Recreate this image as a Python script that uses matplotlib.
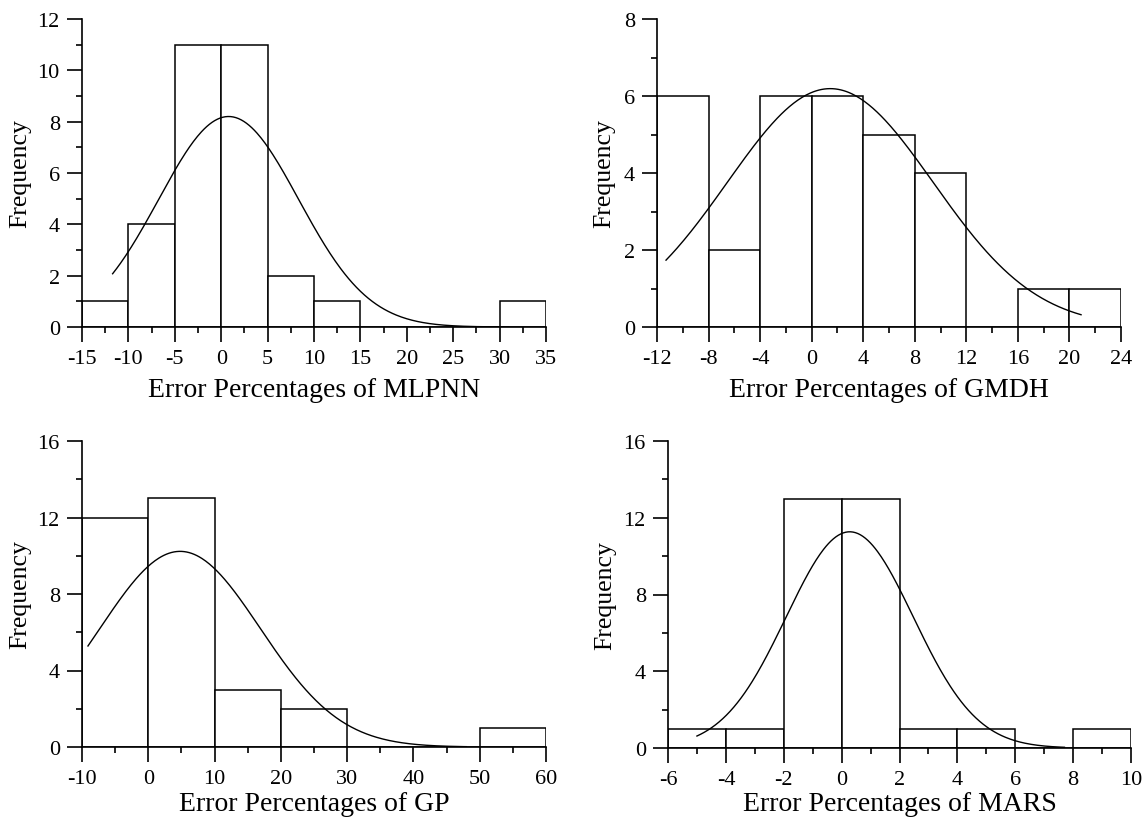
import numpy as np
import matplotlib
matplotlib.use("Agg")
import matplotlib.pyplot as plt
from matplotlib.ticker import MultipleLocator

plt.rcParams['font.family'] = ['Liberation Serif', 'DejaVu Serif']
plt.rcParams['axes.unicode_minus'] = False

# ---- data ----
models = ["MLPNN", "GMDH", "GP", "MARS"]

mlpnn_edges = [-15, -10, -5, 0, 5, 10, 15, 20, 25, 30, 35]
mlpnn_counts = [1, 4, 11, 11, 2, 1, 0, 0, 0, 1]

gmdh_edges = [-12, -8, -4, 0, 4, 8, 12, 16, 20, 24]
gmdh_counts = [6, 2, 6, 6, 5, 4, 0, 1, 1]

gp_edges = [-10, 0, 10, 20, 30, 40, 50, 60]
gp_counts = [12, 13, 3, 2, 0, 0, 1]

mars_edges = [-6, -4, -2, 0, 2, 4, 6, 8, 10]
mars_counts = [1, 1, 13, 13, 1, 1, 0, 1]

# fitted normal curves: mean, std, curve start, curve end
fit_mean = [0.8, 1.44, 4.8, 0.28]
fit_std = [7.54, 7.99, 12.09, 2.195]
fit_xmin = [-11.7, -11.3, -9.1, -5.0]
fit_xmax = [31.0, 20.9, 48.0, 7.7]

x_major = [5, 4, 10, 2]
x_minor = [2.5, 2, 5, 1]
y_max = [12, 8, 16, 16]
y_major = [2, 2, 4, 4]
y_minor = [1, 1, 2, 2]

edges_all = [mlpnn_edges, gmdh_edges, gp_edges, mars_edges]
counts_all = [mlpnn_counts, gmdh_counts, gp_counts, mars_counts]

W, H = 1146, 828
fig = plt.figure(figsize=(W / 100, H / 100), dpi=100)

# axes boxes in pixels: left, top, right, bottom
boxes = [(82, 20, 546, 328), (657, 20, 1121, 328),
         (82, 442, 546, 748), (668, 442, 1131, 749)]
ylab_right = [31, 615, 31, 616]      # pixel x of the right side of "Frequency"
xlab_center = [391, 391, 805, 805]   # pixel y of x-label centre

for i in range(4):
    l, t, r, b = boxes[i]
    ax = fig.add_axes([l / W, 1 - b / H, (r - l) / W, (b - t) / H])
    edges = np.array(edges_all[i], dtype=float)
    counts = np.array(counts_all[i], dtype=float)
    widths = np.diff(edges)
    ax.bar(edges[:-1], counts, width=widths, align='edge',
           facecolor='white', edgecolor='black', linewidth=1.1, zorder=2)
    n = counts.sum()
    bw = widths[0]
    xs = np.linspace(fit_xmin[i], fit_xmax[i], 300)
    ys = n * bw / (fit_std[i] * np.sqrt(2 * np.pi)) * np.exp(-0.5 * ((xs - fit_mean[i]) / fit_std[i]) ** 2)
    ax.plot(xs, ys, color='black', linewidth=1.0, zorder=3)

    ax.set_xlim(edges[0], edges[-1])
    ax.set_ylim(0, y_max[i])
    ax.xaxis.set_major_locator(MultipleLocator(x_major[i]))
    ax.xaxis.set_minor_locator(MultipleLocator(x_minor[i]))
    ax.yaxis.set_major_locator(MultipleLocator(y_major[i]))
    ax.yaxis.set_minor_locator(MultipleLocator(y_minor[i]))
    for s in ['top', 'right']:
        ax.spines[s].set_visible(False)
    for s in ['left', 'bottom']:
        ax.spines[s].set_linewidth(1.2)
        ax.spines[s].set_zorder(4)
    ax.tick_params(which='major', direction='out', length=11, width=1.2,
                   labelsize=16, pad=5)
    ax.tick_params(which='minor', direction='out', length=4.5, width=1.2)
    ax.set_xlabel("Error Percentages of " + models[i], fontsize=20)
    ax.set_ylabel("Frequency", fontsize=18.5)
    ax.yaxis.set_label_coords((ylab_right[i] - l) / (r - l), 0.5)
    ax.xaxis.set_label_coords(0.5, (b - xlab_center[i]) / (b - t))
    ax.xaxis.label.set_verticalalignment('center')
    ax.patch.set_alpha(0)

fig.savefig("out.png", dpi=100)
